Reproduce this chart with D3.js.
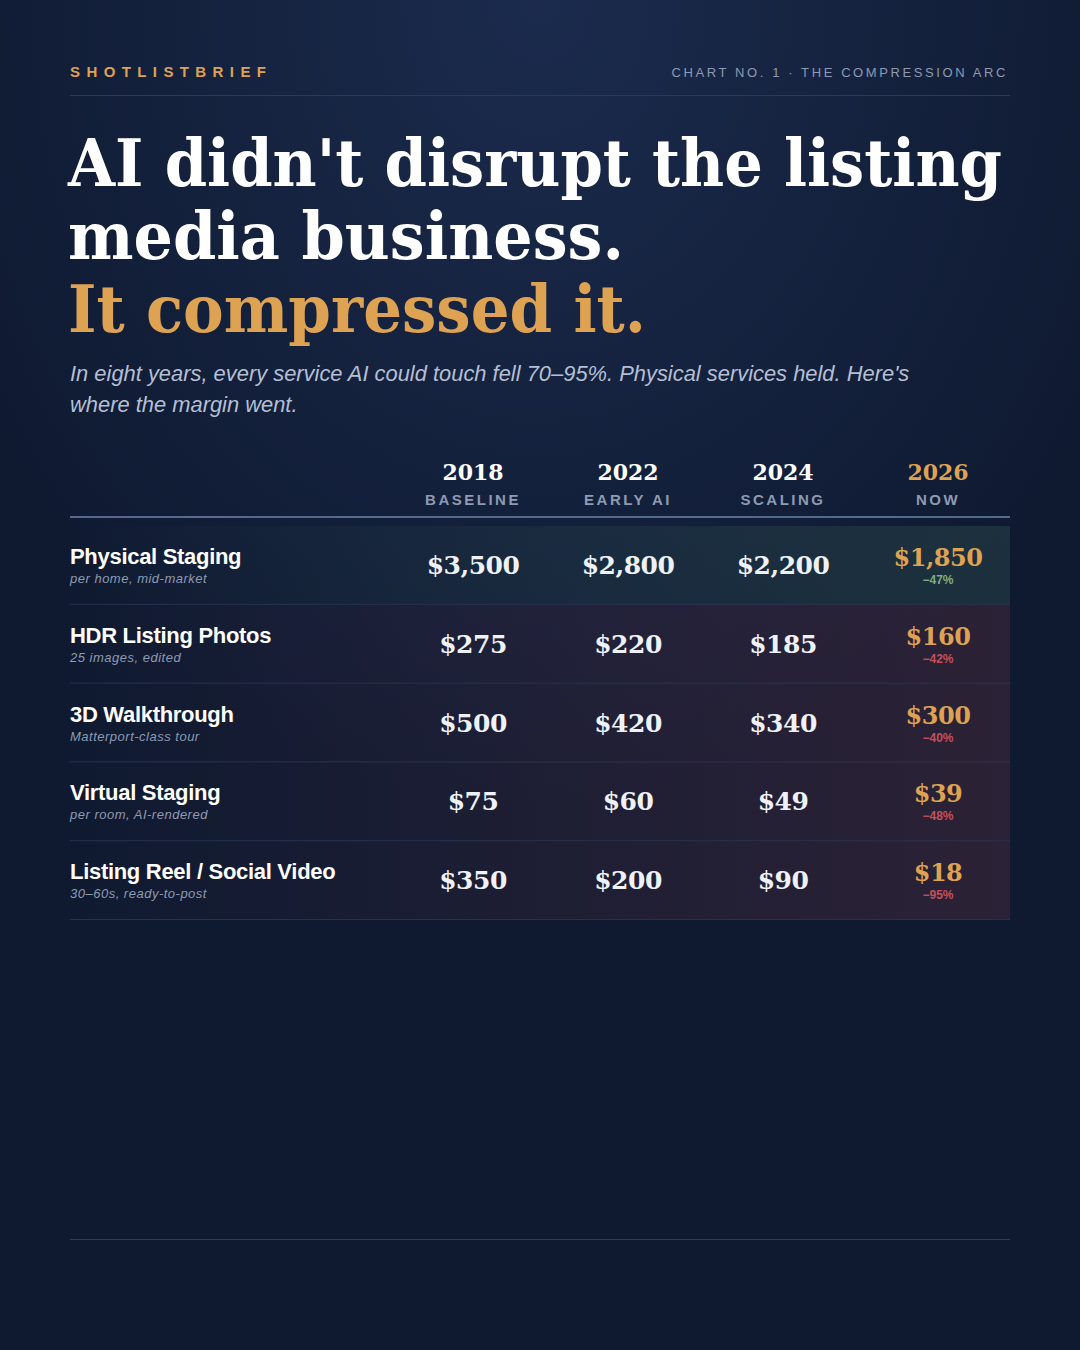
<!DOCTYPE html>
<html><head><meta charset="utf-8">
<script src="https://cdn.jsdelivr.net/npm/d3@7"></script>
<style>body{margin:0;background:#0f1a31;}svg{display:block}</style>
</head><body>
<script>
const years=["2018","2022","2024","2026"];
const phases=["BASELINE","EARLY AI","SCALING","NOW"];
const services=["Physical Staging","HDR Listing Photos","3D Walkthrough","Virtual Staging","Listing Reel / Social Video"];
const subtitles=["per home, mid-market","25 images, edited","Matterport-class tour","per room, AI-rendered","30–60s, ready-to-post"];
const prices=[[3500,2800,2200,1850],[275,220,185,160],[500,420,340,300],[75,60,49,39],[350,200,90,18]];
const changes=["−47%","−42%","−40%","−48%","−95%"];

const W=1080,H=1350;
const svg=d3.select("body").append("svg").attr("width",W).attr("height",H);
const defs=svg.append("defs");
const rg=defs.append("radialGradient").attr("id","bg").attr("cx","0.5").attr("cy","0").attr("r","0.6");
rg.append("stop").attr("offset","0").attr("stop-color","#1b2b4d");
rg.append("stop").attr("offset","1").attr("stop-color","#0f1a31");
svg.append("rect").attr("width",W).attr("height",H).attr("fill","#0f1a31");
svg.append("rect").attr("width",W).attr("height",H).attr("fill","url(#bg)");
function lg(id,c,o){const g=defs.append("linearGradient").attr("id",id);
 g.append("stop").attr("offset","0").attr("stop-color",c).attr("stop-opacity",0);
 g.append("stop").attr("offset","1").attr("stop-color",c).attr("stop-opacity",o);}
lg("gG","#4f8a6a",0.2);lg("gR","#a0404a",0.2);

const sans="Helvetica, Arial, 'Liberation Sans', sans-serif";
const serif="'DejaVu Serif', Georgia, serif";
const gold="#dea253";
svg.append("text").attr("x",70).attr("y",77).text("SHOTLISTBRIEF").attr("fill",gold)
 .attr("font-family",sans).attr("font-weight",700).attr("font-size",15).attr("letter-spacing",6.4);
svg.append("text").attr("x",1008).attr("y",77).attr("text-anchor","end").text("CHART NO. 1 · THE COMPRESSION ARC")
 .attr("fill","#8e9ab2").attr("font-family",sans).attr("font-size",13).attr("letter-spacing",2.6);
svg.append("line").attr("x1",70).attr("x2",1010).attr("y1",95.5).attr("y2",95.5).attr("stroke","#2c3a58");

const tl=[["AI didn't disrupt the listing","#ffffff",186,934],["media business.","#ffffff",259,556],["It compressed it.",gold,332,578]];
tl.forEach(t=>svg.append("text").attr("x",68).attr("y",t[2]).text(t[0]).attr("fill",t[1])
 .attr("font-family",serif).attr("font-weight",700).attr("font-size",66)
 .attr("textLength",t[3]).attr("lengthAdjust","spacingAndGlyphs"));
["In eight years, every service AI could touch fell 70–95%. Physical services held. Here's","where the margin went."]
 .forEach((s,i)=>svg.append("text").attr("x",70).attr("y",381+i*31).text(s).attr("fill","#b4bfd4")
 .attr("font-family",sans).attr("font-style","italic").attr("font-size",21.9));

const x=d3.scalePoint().domain(years).range([473,938]);
const y=d3.scaleBand().domain(services).range([526,920]);
years.forEach((yr,i)=>{
 svg.append("text").attr("x",x(yr)).attr("y",480).attr("text-anchor","middle").text(yr)
  .attr("fill",i==3?gold:"#fff").attr("font-family",serif).attr("font-weight",700).attr("font-size",22);
 svg.append("text").attr("x",x(yr)).attr("y",505).attr("text-anchor","middle").text(phases[i])
  .attr("fill","#8e9ab2").attr("font-family",sans).attr("font-weight",700).attr("font-size",15).attr("letter-spacing",2.5);
});
svg.append("line").attr("x1",70).attr("x2",1010).attr("y1",517).attr("y2",517).attr("stroke","#56688c").attr("stroke-width",2);

const fmt=d3.format("$,");
services.forEach((s,r)=>{
 const y0=y(s),h=y.bandwidth();
 svg.append("rect").attr("x",70).attr("y",y0).attr("width",940).attr("height",h).attr("fill",r==0?"url(#gG)":"url(#gR)");
 svg.append("line").attr("x1",70).attr("x2",1010).attr("y1",y0+h-0.5).attr("y2",y0+h-0.5).attr("stroke","#26334f");
 svg.append("text").attr("x",70).attr("y",y0+38).text(s).attr("fill","#fff").attr("font-family",sans)
  .attr("font-weight",700).attr("font-size",22).attr("letter-spacing",-0.3);
 svg.append("text").attr("x",70).attr("y",y0+57).text(subtitles[r]).attr("fill","#8e9ab2").attr("font-family",sans)
  .attr("font-style","italic").attr("font-size",13).attr("letter-spacing",0.5);
 prices[r].forEach((v,i)=>{
  const last=i==3;
  svg.append("text").attr("x",x(years[i])).attr("y",y0+(last?40:48)).attr("text-anchor","middle").text(fmt(v))
   .attr("fill",last?gold:"#eef1f8").attr("font-family",serif).attr("font-weight",700).attr("font-size",last?24:25).attr("letter-spacing",-0.5);
 });
 svg.append("text").attr("x",x("2026")).attr("y",y0+58).attr("text-anchor","middle").text(changes[r])
  .attr("fill",r==0?"#7fae7f":"#c4505a").attr("font-family",sans).attr("font-weight",700).attr("font-size",12);
});
svg.append("line").attr("x1",70).attr("x2",1010).attr("y1",1239.5).attr("y2",1239.5).attr("stroke","#2c3a58");
</script></body></html>
